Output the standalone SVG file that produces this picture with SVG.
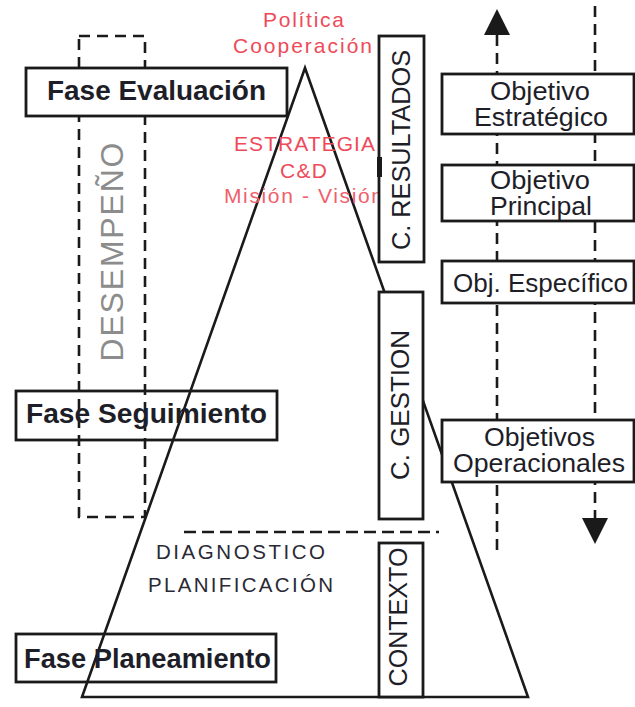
<svg xmlns="http://www.w3.org/2000/svg" width="635" height="707" viewBox="0 0 635 707">
<style>
  .bg { fill: #ffffff; }
  .box { fill: #ffffff; stroke: #1a1a1a; stroke-width: 2.8; }
  .obox { fill: none; stroke: #1a1a1a; stroke-width: 2.8; }
  .dash { fill: none; stroke: #1a1a1a; stroke-width: 2.6; stroke-dasharray: 11 7; }
  .line { fill: none; stroke: #1a1a1a; stroke-width: 2.6; stroke-linejoin: miter; }
  .phase { font-family: "Liberation Sans", Arial, sans-serif; font-weight: bold; font-size: 28px; fill: #1e1e28; }
  .red { font-family: "Liberation Sans", Arial, sans-serif; font-size: 21px; fill: #ee4a5a; text-anchor: start; }
  .obj { font-family: "Liberation Sans", Arial, sans-serif; font-size: 25px; fill: #1e1e28; }
  .vert { font-family: "Liberation Sans", Arial, sans-serif; font-size: 25px; fill: #1e1e28; text-anchor: middle; }
  .caps { font-family: "Liberation Sans", Arial, sans-serif; font-size: 20.5px; fill: #2a2a35; }
  .des { font-family: "Liberation Sans", Arial, sans-serif; font-size: 32px; fill: #8c8c8c; text-anchor: middle; }
</style>
<defs>
  <marker id="arrow" viewBox="0 0 10 10" refX="0" refY="5" markerWidth="27" markerHeight="26" markerUnits="userSpaceOnUse" orient="auto">
    <path d="M0,0 L10,5 L0,10 Z" fill="#1a1a1a"/>
  </marker>
</defs>
<rect class="bg" x="0" y="0" width="635" height="707"/>

<g id="desempeno">
  <rect class="dash" x="79" y="36" width="66" height="481"/>
  <text class="des" transform="translate(123,252) rotate(-90)" x="0" y="0" textLength="219" lengthAdjust="spacing">DESEMPEÑO</text>
</g>

<g id="connectors">
  <polygon id="triangle" class="line" points="305,68 528,697 82,697"/>
  <line class="dash" x1="184" y1="532" x2="439" y2="532" style="stroke-dasharray: 12 6"/>
  <line class="dash" x1="497" y1="550" x2="497" y2="35" marker-end="url(#arrow)"/>
  <line class="dash" x1="595" y1="6" x2="595" y2="518" marker-end="url(#arrow)"/>
</g>

<g id="fase-evaluacion">
  <rect class="box" x="26" y="68" width="261" height="48"/>
  <text class="phase" x="47" y="100" textLength="219" lengthAdjust="spacingAndGlyphs">Fase Evaluación</text>
</g>

<g id="fase-seguimiento">
  <rect class="obox" x="16" y="391" width="261" height="49"/>
  <text class="phase" x="26" y="423" textLength="241" lengthAdjust="spacingAndGlyphs">Fase Seguimiento</text>
</g>

<g id="fase-planeamiento">
  <rect class="obox" x="16" y="634" width="260" height="48"/>
  <text class="phase" x="24" y="668" textLength="247" lengthAdjust="spacingAndGlyphs">Fase Planeamiento</text>
</g>

<g id="politica">
  <text class="red" x="263" y="27" textLength="81" lengthAdjust="spacing">Política</text>
  <text class="red" x="233" y="53" textLength="139" lengthAdjust="spacing">Cooperación</text>
</g>

<g id="estrategia">
  <text class="red" x="234" y="151" textLength="141" lengthAdjust="spacing">ESTRATEGIA</text>
  <text class="red" x="280" y="178" textLength="47" lengthAdjust="spacing">C&amp;D</text>
  <text class="red" x="224" y="203" textLength="159" lengthAdjust="spacing" style="fill:#f0606c">Misión - Visión</text>
</g>

<g id="c-resultados">
  <rect class="box" x="379" y="36" width="45" height="226"/>
  <rect x="377" y="157" width="5" height="20" fill="#1a1a1a"/>
  <text class="vert" transform="translate(410,150) rotate(-90)" x="0" y="0" textLength="200" lengthAdjust="spacingAndGlyphs">C. RESULTADOS</text>
</g>

<g id="c-gestion">
  <rect class="box" x="379" y="292" width="44" height="227"/>
  <text class="vert" transform="translate(409,405) rotate(-90)" x="0" y="0" textLength="150" lengthAdjust="spacingAndGlyphs">C. GESTION</text>
</g>

<g id="contexto">
  <rect class="box" x="379" y="543" width="44" height="154"/>
  <text class="vert" transform="translate(407,617) rotate(-90)" x="0" y="0" textLength="139" lengthAdjust="spacingAndGlyphs">CONTEXTO</text>
</g>

<g id="diagnostico">
  <text class="caps" x="156" y="559" textLength="169" lengthAdjust="spacing">DIAGNOSTICO</text>
  <text class="caps" x="148" y="592" textLength="185" lengthAdjust="spacing">PLANIFICACIÓN</text>
</g>

<g id="objetivo-estrategico">
  <rect class="box" x="442" y="74" width="192" height="60"/>
  <text class="obj" x="490" y="100" textLength="100" lengthAdjust="spacingAndGlyphs">Objetivo</text>
  <text class="obj" x="474" y="126" textLength="134" lengthAdjust="spacingAndGlyphs">Estratégico</text>
</g>

<g id="objetivo-principal">
  <rect class="box" x="442" y="165" width="192" height="56"/>
  <text class="obj" x="490" y="189" textLength="100" lengthAdjust="spacingAndGlyphs">Objetivo</text>
  <text class="obj" x="490" y="215" textLength="102" lengthAdjust="spacingAndGlyphs">Principal</text>
</g>

<g id="obj-especifico">
  <rect class="box" x="442" y="261" width="192" height="42"/>
  <text class="obj" x="453" y="292" textLength="175" lengthAdjust="spacingAndGlyphs">Obj. Específico</text>
</g>

<g id="objetivos-operacionales">
  <rect class="box" x="442" y="420" width="192" height="62"/>
  <text class="obj" x="484" y="446" textLength="111" lengthAdjust="spacingAndGlyphs">Objetivos</text>
  <text class="obj" x="453" y="472" textLength="172" lengthAdjust="spacingAndGlyphs">Operacionales</text>
</g>
</svg>
